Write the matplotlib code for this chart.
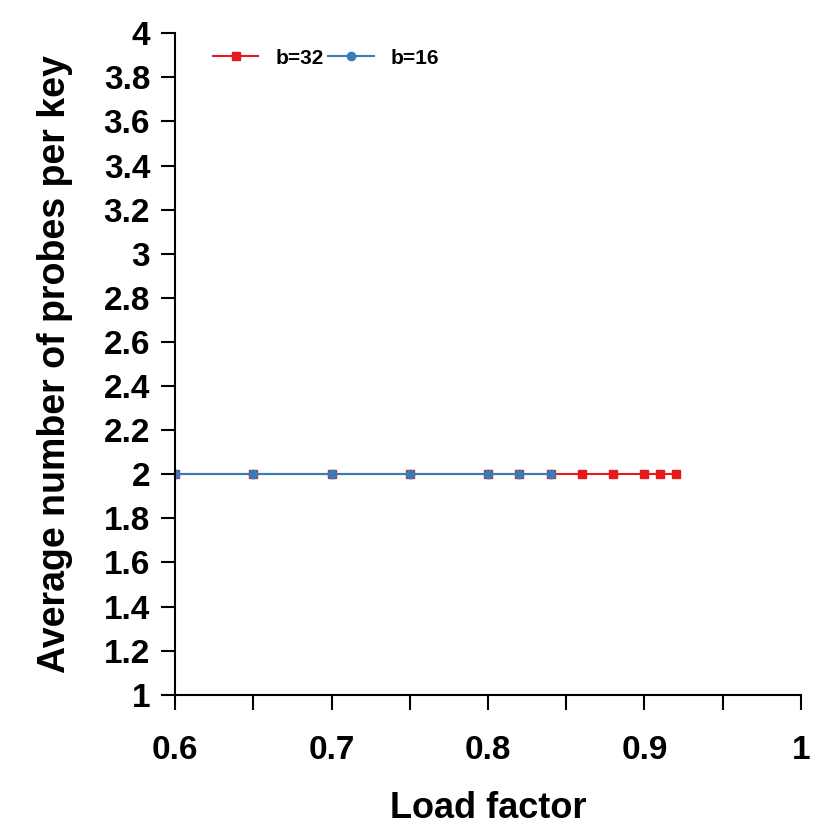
import numpy as np
import matplotlib.pyplot as plt
from matplotlib.ticker import MultipleLocator

plt.rcParams['font.family'] = ['Liberation Sans', 'DejaVu Sans']
plt.rcParams['font.weight'] = 'bold'

# data
load_b32 = [0.6, 0.65, 0.7, 0.75, 0.8, 0.82, 0.84, 0.86, 0.88, 0.9, 0.91, 0.92]
probes_b32 = [2, 2, 2, 2, 2, 2, 2, 2, 2, 2, 2, 2]
load_b16 = [0.6, 0.65, 0.7, 0.75, 0.8, 0.82, 0.84]
probes_b16 = [2, 2, 2, 2, 2, 2, 2]
x_ticks = [0.6, 0.7, 0.8, 0.9, 1.0]
x_labels = ['0.6', '0.7', '0.8', '0.9', '1']

fig = plt.figure(figsize=(8.3, 8.3), dpi=100)
ax = fig.add_axes([0.211, 0.163, 0.754, 0.797])

ax.plot(load_b32, probes_b32, color='#e41a1c', marker='s', markersize=6,
        linewidth=1.5, label='b=32')
ax.plot(load_b16, probes_b16, color='#377eb8', marker='o', markersize=6,
        linewidth=1.5, label='b=16')

ax.set_xlim(0.6, 1.0)
ax.set_ylim(1, 4)
ax.set_xticks(x_ticks)
ax.set_xticklabels(x_labels)
ax.xaxis.set_minor_locator(MultipleLocator(0.05))
yt = np.round(np.arange(1, 4.01, 0.2), 1)
ax.set_yticks(yt)
ax.set_yticklabels([('%g' % v) for v in yt])

for s in ['top', 'right']:
    ax.spines[s].set_visible(False)
for s in ['left', 'bottom']:
    ax.spines[s].set_linewidth(1.5)
ax.tick_params(axis='both', which='both', direction='out', width=1.5,
               labelsize=24)
ax.tick_params(axis='x', which='both', length=11, pad=18)
ax.tick_params(axis='y', which='both', length=10, pad=8)

ax.set_xlabel('Load factor', fontsize=26, fontweight='bold', labelpad=18)
ax.set_ylabel('Average number of probes per key', fontsize=27,
              fontweight='bold', labelpad=22)

ax.legend(loc='upper left', ncol=2, frameon=False, fontsize=15,
          bbox_to_anchor=(0.03, 1.005), handlelength=2.2, columnspacing=0.2,
          handletextpad=0.8)

fig.savefig('out.png', dpi=100)
